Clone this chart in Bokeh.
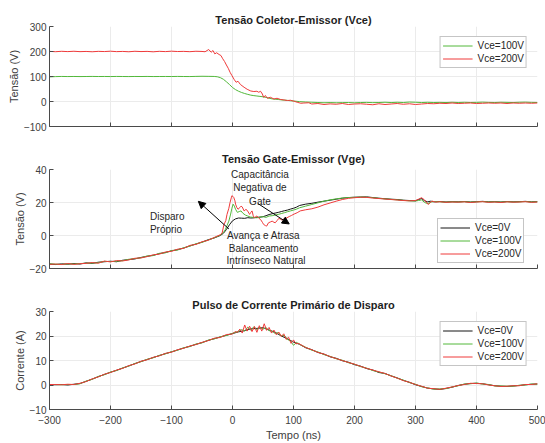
from bokeh.plotting import figure
from bokeh.layouts import column
from bokeh.models import Range1d, FixedTicker, Legend, LegendItem, Arrow, NormalHead
from bokeh.embed import file_html
from bokeh.resources import INLINE
from bokeh.core.properties import value

# ---------------- data ----------------
x_ticks = [-300, -200, -100, 0, 100, 200, 300, 400, 500]

# Top: Vce (V)
vce100_t = list(range(-300, -29, 10)) + [-25, -20, -15, -10, -5, 0, 5, 10, 15, 20, 25, 30, 35, 40, 45, 50,
                                          55, 60, 65, 70, 75, 80, 85, 90, 95, 100, 110, 120, 130] + list(range(140, 501, 10))
vce100_v = [98.5, 99.6, 100.2, 99.8, 100.1, 99.7, 100.0, 100.3, 99.9, 100.1, 99.8, 100.2, 100.0, 99.7,
            100.1, 99.9, 100.2, 99.8, 100.0, 100.1, 99.9, 100.3, 100.0, 99.8, 100.4, 100.9, 100.6, 100.2,
            99.0, 95.5, 89.0, 79.0, 68.0, 56.0, 47.5, 41.0, 36.0, 32.0, 28.5, 25.5, 23.5, 22.0, 20.5, 18.8,
            16.5, 13.0, 10.5, 9.0, 8.0, 6.5, 5.3, 4.5, 3.0, 2.0, -0.5, -2.0, -3.0,
            -4.0, -5.0, -4.2, -5.1, -4.5, -4.0, -5.2, -4.1, -3.6, -4.6, -4.0, -3.0, -4.2, -3.1, -4.0, -2.2,
            -3.0, -4.1, -3.2, -4.0, -3.5, -4.2, -3.0, -4.1, -3.2, -4.0, -3.5, -2.6, -3.6, -4.1, -3.0, -3.6,
            -4.2, -3.1, -2.5, -3.6, -4.1]

vce200_t = list(range(-300, -49, 10)) + [-45, -39, -35, -32, -29, -26, -22, -19, -16, -13, -10, -7, -4, -1,
                                          3, 6, 9, 13, 19, 24, 30, 35, 40, 43, 46, 49, 51, 54, 57, 62, 68, 73,
                                          79, 84, 90, 95, 101, 106, 112, 117, 125] + list(range(130, 501, 10))
vce200_v = [200.5, 199.2, 200.8, 199.6, 201.0, 199.4, 200.2, 198.9, 200.6, 199.8, 201.2, 199.5, 200.3,
            199.0, 200.9, 199.7, 200.4, 198.8, 200.7, 199.6, 201.3, 199.9, 200.5, 199.3, 201.0, 200.2,
            199.0, 208.0, 197.0, 204.0, 190.5, 195.0, 188.0, 184.0, 171.0, 160.0, 146.0, 133.0, 117.0, 104.0,
            87.0, 77.0, 81.0, 68.0, 57.0, 49.0, 42.0, 40.0, 41.0, 37.0, 41.0, 30.0, 17.0, 24.0, 13.0, 17.0,
            10.0, 13.0, 8.0, 6.5, 4.0, 5.0, 1.0, -3.0, -7.0, -6.0, -5.0,
            -10, -8, -12, -9.5, -11, -8, -12, -10, -9, -11, -13, -9, -12, -10, -8, -11, -9, -12, -10, -8,
            -9, -7, -8, -6, -8, -7, -6, -8, -7, -6, -7, -6, -8, -6, -7, -6, -7, -6]

# Middle: Vge (V)
vge0_t = list(range(-300, -19, 10)) + [-15, -10, -5, 0, 5, 10, 15, 20, 25, 30, 35, 40, 45, 50, 55, 60, 65,
                                        70, 75, 80, 85, 90, 95, 100, 105, 110] + list(range(120, 301, 10)) + \
         [305, 310, 315, 320, 325, 330] + list(range(340, 501, 10))
vge0_v = [-17.3, -17.6, -17.2, -17.4, -17.0, -17.3, -16.6, -16.9, -16.2, -15.9, -15.6, -15.9, -15.0, -14.6,
          -14.2, -13.3, -12.6, -12.0, -11.0, -10.3, -9.3, -8.6, -7.6, -6.3, -5.2, -4.0, -2.6, -1.5, 0.0,
          1.3, 3.6, 6.5, 8.9, 10.1, 10.6, 10.5, 10.4, 10.8, 10.6, 10.7, 11.0, 11.1, 11.4, 12.0, 12.7, 13.2,
          13.6, 14.0, 14.5, 15.0, 15.4, 16.0, 16.5, 17.2, 18.2,
          19.0, 19.5, 20.2, 20.8, 21.4, 22.0, 22.6, 23.0, 23.2, 23.3, 23.4, 23.0, 22.6, 22.3, 22.0, 21.8,
          21.4, 21.2, 21.0,
          21.8, 22.4, 21.0, 20.4, 20.8, 20.4,
          20.6, 20.3, 20.5, 20.4, 20.6, 20.3, 20.5, 20.7, 20.4, 20.5, 20.3, 20.6, 20.4, 20.5, 20.7, 20.4, 20.5]

vge100_t = list(range(-300, -19, 10)) + [-15, -12, -9, -6, -3, -1, 1, 3, 5, 8, 11, 14, 17, 21, 25, 29, 34,
                                          40, 45, 50, 55, 60, 65, 70, 75, 80, 85, 90, 95, 100, 105, 110] + \
           list(range(120, 301, 10)) + [305, 310, 315, 320, 325, 330] + list(range(340, 501, 10))
vge100_v = [-17.1, -17.4, -17.5, -17.2, -17.3, -17.0, -16.8, -16.7, -16.5, -15.7, -15.8, -15.6, -15.3,
            -14.4, -14.0, -13.5, -12.4, -12.2, -10.8, -10.5, -9.1, -8.8, -7.4, -6.5, -5.0, -4.2, -2.8, -1.4, 0.2,
            1.8, 3.4, 6.0, 8.7, 13.0, 16.5, 19.0, 17.8, 15.9, 14.0, 14.5, 14.9, 13.5, 12.4, 11.8, 11.2, 11.0,
            10.7, 11.2, 11.4, 11.0, 11.8, 12.0, 12.4, 12.8, 13.3, 13.8, 14.4, 14.9, 15.4, 16.0, 16.8,
            17.8, 18.8, 19.8, 20.8, 21.6, 22.2, 22.7, 23.0, 23.1, 23.3, 23.2, 22.9, 22.5, 22.2, 21.9, 21.6,
            21.3, 21.0, 20.9,
            21.2, 21.6, 20.0, 19.3, 20.2, 20.6,
            20.4, 20.2, 20.4, 20.3, 20.5, 20.2, 20.4, 20.6, 20.3, 20.4, 20.2, 20.5, 20.3, 20.4, 20.6, 20.3, 20.4]

vge200_t = list(range(-300, -19, 10)) + [-17, -14, -11, -9, -6, -4, -2, -1, 1, 2, 4, 5, 7, 9, 12, 14, 16,
                                          19, 22, 24, 27, 28, 30, 32, 34, 36, 38, 40, 43, 46, 49, 51, 54, 56,
                                          59, 62, 65, 68, 70, 73, 76, 79, 81, 85, 89, 93, 97, 101, 106, 111] + \
           list(range(120, 301, 10)) + [305, 310, 315, 321, 327, 333] + list(range(340, 501, 10))
vge200_v = [-17.5, -17.3, -17.6, -17.0, -17.5, -17.1, -16.9, -16.4, -16.8, -15.5, -16.0, -15.2, -15.4,
            -14.8, -13.8, -13.6, -12.8, -11.7, -11.3, -10.0, -9.6, -8.3, -7.8, -6.0, -5.4, -3.8, -2.9, -1.2, 0.5,
            1.5, 6.7, 9.0, 12.8, 16.5, 20.0, 22.8, 24.1, 23.6, 23.1, 21.0, 19.0, 17.0, 15.9, 16.9, 17.8, 17.3,
            14.9, 15.8, 15.3, 13.5, 12.8, 14.0, 14.9, 12.0, 10.7, 11.5, 11.8, 10.5, 9.7, 8.0, 6.7, 6.0, 5.7,
            7.7, 8.2, 8.7, 8.0, 7.7, 9.0, 10.4, 9.8, 9.4, 10.2, 10.7, 11.5, 12.2, 13.0, 13.8, 14.9,
            15.6, 16.2, 17.2, 18.6, 19.7, 20.8, 21.8, 22.5, 22.9, 23.2, 23.1, 22.7, 22.4, 22.1, 21.8, 21.5,
            21.2, 21.0, 21.2,
            22.0, 22.9, 21.5, 18.8, 20.9, 20.2,
            20.5, 20.1, 20.3, 20.2, 20.4, 20.0, 20.3, 20.5, 20.1, 20.3, 20.0, 20.4, 20.2, 20.3, 20.5, 20.1, 20.3]

# Bottom: primary current (A)
i0_t = list(range(-300, 501, 10))
i0_v = [0.2, 0.1, 0.2, 0.0, 0.3, 0.6, 1.5, 2.4, 3.4, 4.3,
        5.2, 6.0, 6.9, 7.8, 8.7, 9.6, 10.4, 11.2, 12.0, 12.8,
        13.5, 14.3, 15.1, 15.8, 16.6, 17.3, 18.2, 18.9, 19.6, 20.3,
        21.0, 21.7, 22.2, 22.9, 23.1, 23.4, 22.4, 21.5, 20.0, 18.9,
        17.5, 16.6, 15.2, 14.4, 13.3, 12.6, 11.5, 10.9, 9.9, 9.3,
        8.3, 7.7, 6.7, 6.1, 5.1, 4.7, 3.7, 2.9, 1.9, 1.1,
        0.1, -0.6, -1.3, -1.6, -1.8, -1.4, -0.9, -0.2, 0.3, 0.6,
        0.7, 0.5, 0.1, -0.3, -0.5, -0.6, -0.4, -0.2, 0.1, 0.3,
        0.4]

i100_t = list(range(-300, 1, 10)) + list(range(10, 111, 5)) + list(range(120, 501, 10))
i100_v = [0.1, 0.2, 0.1, 0.2, 0.2, 0.5, 1.6, 2.3, 3.5, 4.2,
          5.3, 5.9, 7.0, 7.7, 8.8, 9.5, 10.5, 11.1, 12.1, 12.7,
          13.6, 14.2, 15.2, 15.7, 16.7, 17.2, 18.3, 18.8, 19.7, 20.2,
          21.1,
          21.9, 22.6, 22.0, 23.6, 22.4, 23.8, 22.6, 23.5, 22.8, 23.4, 22.2, 22.0, 21.0, 21.4, 20.0, 20.3,
          18.6, 18.0, 16.2, 17.4, 16.6,
          15.4, 14.2, 13.5, 12.4, 11.7, 10.7, 10.1, 9.1, 8.5, 7.5, 6.9, 5.9, 5.3, 4.6, 3.8, 2.8, 2.0, 1.0,
          0.3, -0.7, -1.2, -1.7, -1.6, -1.5, -0.8, -0.3, 0.4, 0.5,
          0.8, 0.4, 0.2, -0.4, -0.4, -0.5, -0.5, -0.1, 0.0, 0.4, 0.3]

i200_t = list(range(-300, 1, 10)) + list(range(4, 111, 4)) + list(range(120, 501, 10))
i200_v = [0.2, 0.2, 0.1, 0.3, 0.2, 0.7, 1.4, 2.5, 3.3, 4.4,
          5.1, 6.1, 6.8, 7.9, 8.6, 9.7, 10.3, 11.3, 11.9, 12.9,
          13.4, 14.4, 15.0, 15.9, 16.5, 17.4, 18.1, 19.1, 19.4, 20.6,
          20.8,
          21.8, 21.5, 22.8, 21.2, 24.5, 22.0, 24.0, 21.8, 23.9, 21.5, 24.2, 22.0, 25.0, 22.3, 23.5, 21.2,
          22.4, 20.5, 21.6, 19.8, 20.9, 18.6, 19.5, 17.0, 18.4, 16.8, 17.0,
          15.3, 14.4, 13.3, 12.6, 11.6, 10.8, 10.0, 9.2, 8.5, 7.6, 6.8, 6.1, 5.4, 4.7, 3.7, 2.8, 1.8, 1.1,
          0.2, -0.5, -1.3, -1.5, -1.8, -1.3, -0.8, -0.2, 0.2, 0.7,
          0.6, 0.5, 0.0, -0.3, -0.6, -0.5, -0.3, -0.3, 0.2, 0.2, 0.5]

# annotations (middle panel)
note_x = [45, 45, 45, -107, -109, 51, 51, 55]
note_y = [36.9, 28.8, 20.7, 11.5, 3.4, 0.3, -7.8, -15.3]
note_text = ["Capacitância", "Negativa de", "Gate", "Disparo", "Próprio",
             "Avança e Atrasa", "Balanceamento", "Intrínseco Natural"]

# ---------------- style ----------------
FONT = "Liberation Sans"
GREEN = "#52b83b"
RED = "#ef3a3a"
BLACK = "#151515"
AX = "#4a4a4a"
GRID = "#ebebeb"


def make_fig(height, top, bottom, yr, yticks, title, ylabel, show_x, title_standoff):
    p = figure(width=545, height=height, x_range=Range1d(-300, 500), y_range=Range1d(*yr),
               output_backend="svg", toolbar_location=None,
               min_border_left=49, min_border_right=8, min_border_top=top, min_border_bottom=bottom)
    p.outline_line_color = None
    p.background_fill_color = "white"
    p.border_fill_color = "white"
    p.title.text = title
    p.title.align = "center"
    p.title.text_font = FONT
    p.title.text_font_size = "11px"
    p.title.text_font_style = "bold"
    p.title.text_color = "#1e1e1e"
    p.title.standoff = title_standoff
    for ax in (p.xaxis[0], p.yaxis[0]):
        ax.axis_line_color = AX
        ax.major_tick_line_color = AX
        ax.major_tick_in = 4
        ax.major_tick_out = 0
        ax.minor_tick_line_color = None
        ax.major_label_text_font = FONT
        ax.major_label_text_font_size = "10px"
        ax.major_label_text_color = "#404040"
        ax.axis_label_text_font = FONT
        ax.axis_label_text_font_size = "11px"
        ax.axis_label_text_font_style = "normal"
        ax.axis_label_text_color = "#404040"
    p.xaxis.ticker = FixedTicker(ticks=x_ticks)
    p.yaxis.ticker = FixedTicker(ticks=yticks)
    p.yaxis.axis_label = ylabel
    p.yaxis.major_label_standoff = 3
    p.yaxis.axis_label_standoff = 1
    if show_x:
        p.xaxis.axis_label = "Tempo (ns)"
        p.xaxis.major_label_standoff = 6
        p.xaxis.axis_label_standoff = 2
    else:
        p.xaxis.major_label_overrides = {t: "" for t in x_ticks}
        p.xaxis.major_label_standoff = 0
    p.xgrid.grid_line_color = GRID
    p.ygrid.grid_line_color = GRID
    return p


def make_legend(items, location):
    lg = Legend(items=items, location=location)
    lg.label_text_font = FONT
    lg.label_text_font_size = "10px"
    lg.label_text_color = "#262626"
    lg.glyph_width = 30
    lg.glyph_height = 13
    lg.label_height = 13
    lg.label_standoff = 5
    lg.padding = 2
    lg.spacing = 0
    lg.margin = 10
    lg.border_line_color = "#8c8c8c"
    lg.border_line_width = 1
    lg.background_fill_color = "white"
    lg.background_fill_alpha = 1
    return lg


# Top panel
p1 = make_fig(145, 26, 19, (-100, 300), [-100, 0, 100, 200, 300],
              "Tensão Coletor-Emissor (Vce)", "Tensão (V)", False, 1)
r1a = p1.line(vce100_t, vce100_v, line_color=GREEN, line_width=1)
r1b = p1.line(vce200_t, vce200_v, line_color=RED, line_width=1)
p1.add_layout(make_legend([LegendItem(label="Vce=100V", renderers=[r1a]),
                           LegendItem(label="Vce=200V", renderers=[r1b])], "top_right"))

# Middle panel
p2 = make_fig(145, 24, 22, (-20, 40), [-20, 0, 20, 40],
              "Tensão Gate-Emissor (Vge)", "Tensão (V)", False, 10)
r2a = p2.line(vge0_t, vge0_v, line_color=BLACK, line_width=1)
r2b = p2.line(vge100_t, vge100_v, line_color=GREEN, line_width=1)
r2c = p2.line(vge200_t, vge200_v, line_color=RED, line_width=1)
p2.text(x=note_x, y=note_y, text=note_text, text_font=value(FONT), text_font_size="10px",
        text_align="center", text_baseline="middle", text_color="#262626")
p2.add_layout(Arrow(end=NormalHead(size=7, fill_color="black", line_color="black"),
                    x_start=-6, y_start=4, x_end=-56, y_end=20.7, line_color="black", line_width=1))
p2.add_layout(Arrow(end=NormalHead(size=7, fill_color="black", line_color="black"),
                    x_start=42, y_start=19.3, x_end=93, y_end=7.0, line_color="black", line_width=1))
lg2 = make_legend([LegendItem(label="Vce=0V", renderers=[r2a]),
                   LegendItem(label="Vce=100V", renderers=[r2b]),
                   LegendItem(label="Vce=200V", renderers=[r2c])], (388, 5))
p2.add_layout(lg2)

# Bottom panel
p3 = make_fig(153, 21, 33, (-10, 30), [-10, 0, 10, 20, 30],
              "Pulso de Corrente Primário de Disparo", "Corrente (A)", True, 2)
r3a = p3.line(i0_t, i0_v, line_color=BLACK, line_width=1)
r3b = p3.line(i100_t, i100_v, line_color=GREEN, line_width=1)
r3c = p3.line(i200_t, i200_v, line_color=RED, line_width=1)
p3.add_layout(make_legend([LegendItem(label="Vce=0V", renderers=[r3a]),
                           LegendItem(label="Vce=100V", renderers=[r3b]),
                           LegendItem(label="Vce=200V", renderers=[r3c])], "top_right"))

layout = column(p1, p2, p3, spacing=0)
open("out.html", "w").write(file_html(layout, INLINE))
